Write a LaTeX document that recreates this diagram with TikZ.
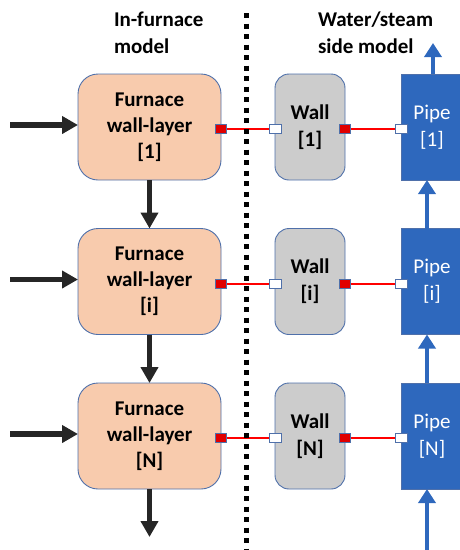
\documentclass[tikz,border=0pt]{standalone}
\usepackage{fontspec}
\setmainfont{Carlito}
\usetikzlibrary{arrows.meta}
\definecolor{peach}{HTML}{F8CBAD}
\definecolor{wallgray}{HTML}{CCCCCC}
\definecolor{pipeblue}{HTML}{2E68BD}
\definecolor{edgeblue}{HTML}{4F70AA}
\definecolor{arrowdark}{HTML}{262626}
\definecolor{portred}{HTML}{E00000}
\begin{document}
\begin{tikzpicture}[x=1pt,y=-1pt,
  every node/.style={inner sep=0pt,outer sep=0pt},
  furn/.style={draw=edgeblue,line width=0.9pt,fill=peach,rounded corners=20pt,
    minimum width=143pt,minimum height=106pt,align=center,font=\fontsize{21}{26}\selectfont\bfseries},
  wallbox/.style={draw=edgeblue,line width=0.9pt,fill=wallgray,rounded corners=14pt,
    minimum width=70pt,minimum height=106pt,align=center,font=\fontsize{21}{27}\selectfont\bfseries},
  pipebox/.style={draw=edgeblue,line width=0.9pt,fill=pipeblue,text=white,
    minimum width=62pt,minimum height=106pt,align=center,font=\fontsize{21}{27}\selectfont},
  title/.style={align=left,anchor=north west,font=\fontsize{21}{27}\selectfont\bfseries},
  redport/.style={draw=edgeblue,line width=0.8pt,fill=portred,minimum width=11pt,minimum height=9pt},
  whiteport/.style={draw=edgeblue,line width=0.8pt,fill=white,minimum width=12pt,minimum height=9pt},
  link/.style={draw=red,line width=2pt},
  blackarrow/.style={draw=arrowdark,line width=5.5pt,-{Triangle[width=17pt,length=16pt]}},
  bluearrow/.style={draw=pipeblue,line width=4.5pt,-{Triangle[width=17pt,length=14pt]}},
  divider/.style={draw=black,line width=5pt,dash pattern=on 5pt off 5.5pt}
]
\useasboundingbox (0,0) rectangle (459,550);

% titles
\node[title] (t1) at (114,12) {In-furnace\\model};
\node[title] (t2) at (318,12) {Water/steam\\side model};

% boxes
\foreach \r/\lab/\y in {1/1/127,2/i/281.5,3/N/436}{
  \node[furn] (f\r) at (149.5,\y) {Furnace\\wall-layer\\{[}\lab{]}};
  \node[wallbox] (w\r) at (310,\y) {Wall\\{[}\lab{]}};
  \node[pipebox] (p\r) at (432,\y) {Pipe\\{[}\lab{]}};
  \coordinate (in\r) at (10,\y-2);
  \draw[blackarrow] (in\r) -- (in\r -| f\r.west);
  \node[redport] (fp\r) at ([yshift=-2pt]f\r.east) {};
  \node[whiteport] (wl\r) at ([yshift=-2pt]w\r.west) {};
  \node[redport] (wr\r) at ([yshift=-2pt]w\r.east) {};
  \node[whiteport] (pl\r) at ([yshift=-2pt]p\r.west) {};
  \draw[link] (fp\r.east) -- (wl\r.west);
  \draw[link] (wr\r.east) -- (pl\r.west);
}

% furnace chain
\coordinate (fout) at (149.5,537);
\draw[blackarrow] (f1.south) -- (f2.north);
\draw[blackarrow] (f2.south) -- (f3.north);
\draw[blackarrow] (f3.south) -- (fout);

% pipe chain
\coordinate (pin) at (427,550);
\coordinate (pout) at (433,43);
\draw[bluearrow] (pin) -- (pin |- p3.south);
\draw[bluearrow] ([xshift=-5pt]p3.north) -- ([xshift=-5pt]p2.south);
\draw[bluearrow] ([xshift=-5pt]p2.north) -- ([xshift=-5pt]p1.south);
\draw[bluearrow] (pout |- p1.north) -- (pout);

% divider
\coordinate (dtop) at (246,13);
\coordinate (dbot) at (246,552);
\draw[divider] (dtop) -- (dbot);
\end{tikzpicture}
\end{document}
